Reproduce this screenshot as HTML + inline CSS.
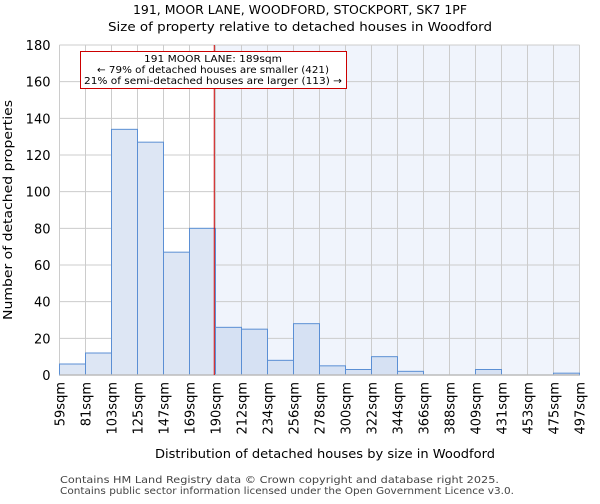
<!DOCTYPE html>
<html><head><meta charset="utf-8"><style>
body{margin:0;background:#fff;font-family:"DejaVu Sans","Liberation Sans",sans-serif}
</style></head><body>
<svg width="600" height="500" xmlns="http://www.w3.org/2000/svg" font-family="DejaVu Sans, Liberation Sans, sans-serif">
<text x="300" y="14" text-anchor="middle" font-size="12" textLength="334" lengthAdjust="spacingAndGlyphs">191, MOOR LANE, WOODFORD, STOCKPORT, SK7 1PF</text>
<text x="300" y="31" text-anchor="middle" font-size="12" textLength="384" lengthAdjust="spacingAndGlyphs">Size of property relative to detached houses in Woodford</text>
<g id="plot"></g>
<text x="325" y="458" text-anchor="middle" font-size="12.5" textLength="340" lengthAdjust="spacingAndGlyphs">Distribution of detached houses by size in Woodford</text>
<text transform="translate(12,210) rotate(-90)" text-anchor="middle" font-size="12.5" textLength="220" lengthAdjust="spacingAndGlyphs">Number of detached properties</text>
<text x="60" y="483" font-size="10" fill="#444" textLength="439" lengthAdjust="spacingAndGlyphs">Contains HM Land Registry data © Crown copyright and database right 2025.</text>
<text x="60" y="494" font-size="10" fill="#444" textLength="454" lengthAdjust="spacingAndGlyphs">Contains public sector information licensed under the Open Government Licence v3.0.</text>
</svg>
<script>
const binLabels=["59sqm","81sqm","103sqm","125sqm","147sqm","169sqm","190sqm","212sqm","234sqm","256sqm","278sqm","300sqm","322sqm","344sqm","366sqm","388sqm","409sqm","431sqm","453sqm","475sqm","497sqm"];
const counts=[6,12,134,127,67,80,26,25,8,28,5,3,10,2,0,0,3,0,0,1];
const yTicks=[0,20,40,60,80,100,120,140,160,180];
const marker=189;
const binStart=169, binEnd=190, binIndex=5;
const NS="http://www.w3.org/2000/svg";
const L=59.5,R=579.5,T=45,B=375,yMax=180;
const n=counts.length;
const x=i=>L+(R-L)*i/n;
const y=v=>B-(B-T)*v/yMax;
const g=document.getElementById('plot');
function mk(t,a){const e=document.createElementNS(NS,t);for(const k in a)e.setAttribute(k,a[k]);g.appendChild(e);return e;}
const mx=x(binIndex+(marker-binStart)/(binEnd-binStart));
let e=mk('rect',{x:mx,y:T,width:R-mx,height:B-T,fill:'#f0f4fc'});


for(let i=0;i<=n;i++){e=mk('line',{x1:x(i),x2:x(i),y1:T,y2:B,stroke:'#ccc','stroke-width':1});

}
yTicks.forEach(v=>{e=mk('line',{x1:L,x2:R,y1:y(v),y2:y(v),stroke:'#ccc','stroke-width':1});


e=mk('text',{x:L-9,y:y(v)+5,'text-anchor':'end','font-size':13});e.textContent=v;

});
counts.forEach((c,i)=>{e=mk('rect',{x:x(i),y:y(c),width:x(i+1)-x(i),height:B-y(c),fill:x(i)>=mx-1?'#d6e1f3':'#dde6f4',stroke:'#5b8fd4','stroke-width':1});

});
binLabels.forEach((lb,i)=>{e=mk('text',{transform:`translate(${x(i)+5},382) rotate(-90)`,'text-anchor':'end','font-size':13});e.textContent=lb;

});
e=mk('line',{x1:L,x2:R,y1:B,y2:B,stroke:'#bbb','stroke-width':1.5});


e=mk('line',{x1:mx,x2:mx,y1:T,y2:B,stroke:'#cc0000','stroke-width':1});


e=mk('rect',{x:80.5,y:51.5,width:266,height:37,fill:'#fff',stroke:'#cc0000','stroke-width':1});


const annLines=["191 MOOR LANE: 189sqm","← 79% of detached houses are smaller (421)","21% of semi-detached houses are larger (113) →"];
const annLens=[138,232,258];
annLines.forEach((t,i)=>{
e=mk('text',{x:213,y:62+i*11,'text-anchor':'middle','font-size':10,textLength:annLens[i],lengthAdjust:'spacingAndGlyphs'});e.textContent=t;

});
</script>
</body></html>
